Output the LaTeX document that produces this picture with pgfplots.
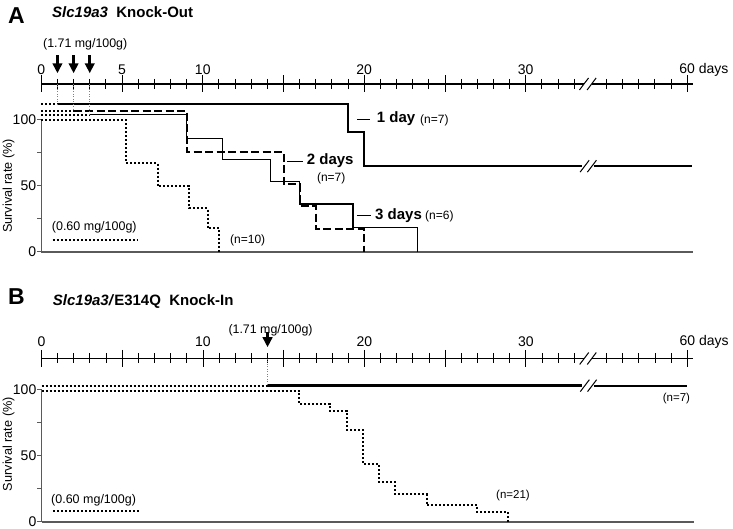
\documentclass[border=0pt]{standalone}
\usepackage{fontspec}
\setmainfont{Liberation Sans}
\usepackage{pgfplots}
\pgfplotsset{compat=1.18}
\usetikzlibrary{arrows.meta}
\newcommand\fs[1]{\fontsize{#1bp}{#1bp}\selectfont}
\definecolor{axgray}{RGB}{90,90,90}
\pgfplotsset{
  /pgf/number format/assume math mode=true,
  timeline/.style={scale only axis, width=652bp, height=10bp,
    xmin=0, xmax=40.38, ymin=0, ymax=1,
    axis x line*=top, axis y line=none, x axis line style={draw=none},
    tick align=center, major tick length=17bp, minor tick length=10bp,
    every tick/.style={black, line width=0.9bp},
    xtick={0,5,10,15,20,25,30,40},
    minor xtick={1,2,3,4,6,7,8,9,11,12,13,14,16,17,18,19,21,22,23,24,26,27,28,29,31,32,33,35,36,37,38,39},
    xticklabel style={font=\fs{14}, anchor=center},
    clip=false},
  surv/.style={scale only axis, width=652bp, height=132bp,
    xmin=0, xmax=40.38, ymin=0, ymax=100,
    axis x line*=bottom, axis y line*=left,
    axis line style={draw=axgray, line width=1.2bp},
    xtick=\empty, ytick={0,25,50,75,100}, yticklabels={0,,50,,100},
    tick align=outside, major tick length=4bp,
    y tick style={axgray, line width=1bp},
    yticklabel style={font=\fs{14}, inner sep=1bp},
    clip=false,
    ylabel={Survival rate (\%)}},
  thickL/.style={black, line width=2.5bp},
  thinL/.style={black, line width=1.2bp},
  dashL/.style={black, line width=2bp, dash pattern=on 8bp off 3.5bp},
  dotL/.style={black, line width=2bp, dash pattern=on 2bp off 2bp},
  guide/.style={gray, line width=0.6bp, dash pattern=on 1bp off 1.5bp},
  brk/.style={black, line width=1bp},
  arr/.style={black, line width=3bp, -{Triangle[width=9.5bp,length=10bp]}},
}
\begin{document}
\begin{tikzpicture}[x=1bp,y=1bp]
\path[use as bounding box] (0,0) rectangle (733,529);

% ================= PANEL A =================
\node[font=\fs{23}\bfseries, anchor=base west, inner sep=0] at (8,{529-23.3}) {A};
\node[font=\fs{15}\bfseries, anchor=base west, inner sep=0] at (52,{529-18}) {\textit{Slc19a3}\ \ Knock-Out};
\node[font=\fs{12.4}, anchor=west, inner sep=0] at (43,{529-44.7}) {(1.71 mg/100g)};

\begin{axis}[timeline, at={(41.3bp,445bp)}, anchor=north west,
  xticklabel style={yshift=5.5bp},
  xticklabels={0,5,10,,20,,30,60\rlap{ days}}]
\addplot[black, line width=1.4bp] coordinates {(0,1)(33.61,1)};
\addplot[black, line width=1.4bp] coordinates {(34.08,1)(40.36,1)};
\addplot[brk] coordinates {(33.33,0.4)(33.89,1.6)};
\addplot[brk] coordinates {(33.80,0.4)(34.36,1.6)};
\end{axis}

\begin{axis}[surv, at={(41.3bp,277bp)}, anchor=south west,
  ylabel style={at={(axis description cs:-0.0503,0.5)}, anchor=center, font=\fs{12.7}}]
% pre-injection dotted parts
\addplot[dotL] coordinates {(0,112)(1,112)};
\addplot[dotL] coordinates {(0,107)(2,107)};
\addplot[dotL] coordinates {(0,104)(3,104)};
% 0.60 mg/100g
\addplot[dotL, const plot] coordinates {(0,100)(5.25,67.5)(7.2,50)(9.15,33)(10.3,18)(11.03,0)};
% 1 day
\addplot[thickL, const plot] coordinates {(1,112)(19,91)(20,65)(33.5,65)};
\addplot[thickL] coordinates {(34.2,65)(40.3,65)};
\addplot[brk] coordinates {(33.37,60.5)(33.93,69.5)};
\addplot[brk] coordinates {(33.82,60.5)(34.38,69.5)};
% 2 days
\addplot[dashL, const plot] coordinates {(2,107)(9,76)(15,51.5)(16,35)(17,17.4)(20,0)};
% 3 days
\addplot[thinL, const plot] coordinates {(3,104)(9,86)(11.2,70)(14.2,53.3)(16,36.4)(19.3,18.7)(23.3,0)};
% guides
\addplot[guide] coordinates {(1,127.3)(1,112)};
\addplot[guide] coordinates {(2,127.3)(2,107)};
\addplot[guide] coordinates {(3,127.3)(3,104)};
% arrows
\addplot[arr] coordinates {(1,149.2)(1,135.4)};
\addplot[arr] coordinates {(2,149.2)(2,135.4)};
\addplot[arr] coordinates {(3,149.2)(3,135.4)};
% leaders
\addplot[black, line width=0.8bp] coordinates {(19.56,100.8)(20.36,100.8)};
\addplot[black, line width=0.8bp] coordinates {(15.22,68.9)(16.21,68.9)};
\addplot[black, line width=0.8bp] coordinates {(19.54,27.8)(20.40,27.8)};
% legend sample
\addplot[dotL] coordinates {(0.72,9.1)(5.93,9.1)};
\end{axis}

\node[font=\fs{15}\bfseries, anchor=west, inner sep=0] at (376.7,{529-119}) {1 day};
\node[font=\fs{12}, anchor=west, inner sep=0] at (420,{529-120}) {(n=7)};
\node[font=\fs{15}\bfseries, anchor=west, inner sep=0] at (306.7,{529-161}) {2 days};
\node[font=\fs{12}, anchor=center, inner sep=0] at (331.2,{529-178}) {(n=7)};
\node[font=\fs{15}\bfseries, anchor=west, inner sep=0] at (375,{529-216}) {3 days};
\node[font=\fs{12}, anchor=west, inner sep=0] at (425,{529-216}) {(n=6)};
\node[font=\fs{12}, anchor=west, inner sep=0] at (230,{529-240}) {(n=10)};
\node[font=\fs{12.5}, anchor=west, inner sep=0] at (51.7,{529-227.3}) {(0.60 mg/100g)};

% ================= PANEL B =================
\node[font=\fs{23}\bfseries, anchor=base west, inner sep=0] at (8,{529-305}) {B};
\node[font=\fs{15}\bfseries, anchor=base west, inner sep=0] at (52.7,{529-306}) {\textit{Slc19a3/}E314Q\ \ Knock-In};
\node[font=\fs{12.4}, anchor=west, inner sep=0] at (228.3,{529-330}) {(1.71 mg/100g)};

\begin{axis}[timeline, at={(41.5bp,170.5bp)}, anchor=north west,
  xticklabel style={yshift=8bp},
  xticklabels={0,,10,,20,,30,60\rlap{ days}}]
\addplot[black, line width=1.4bp] coordinates {(0,1)(33.61,1)};
\addplot[black, line width=1.4bp] coordinates {(34.08,1)(40.36,1)};
\addplot[brk] coordinates {(33.33,0.4)(33.89,1.6)};
\addplot[brk] coordinates {(33.80,0.4)(34.36,1.6)};
\end{axis}

\begin{axis}[surv, at={(41.5bp,7bp)}, anchor=south west,
  ylabel style={at={(axis description cs:-0.0503,0.59)}, anchor=center, font=\fs{12.7}}]
\addplot[dotL] coordinates {(0,103.3)(14,103.3)};
\addplot[thickL] coordinates {(14,103.3)(33.5,103.3)};
\addplot[black, line width=2bp] coordinates {(34.2,103.3)(40,103.3)};
\addplot[brk] coordinates {(33.37,98.8)(33.93,107.8)};
\addplot[brk] coordinates {(33.82,98.8)(34.38,107.8)};
\addplot[dotL, const plot] coordinates {(0,99.5)(15.95,89.4)(17.85,83.9)(18.9,69.7)(19.9,43.9)(20.9,30.5)(21.9,21.2)(23.85,13.1)(27,7.8)(28.9,0)};
\addplot[guide] coordinates {(14,123.5)(14,103.3)};
\addplot[arr] coordinates {(14,144.2)(14,132.4)};
\addplot[dotL] coordinates {(0.72,8.3)(6.1,8.3)};
\end{axis}

\node[font=\fs{11.5}, anchor=west, inner sep=0] at (496,{529-496}) {(n=21)};
\node[font=\fs{11.5}, anchor=west, inner sep=0] at (662.7,{529-398.3}) {(n=7)};
\node[font=\fs{12.5}, anchor=west, inner sep=0] at (51,{529-500}) {(0.60 mg/100g)};
\end{tikzpicture}
\end{document}
